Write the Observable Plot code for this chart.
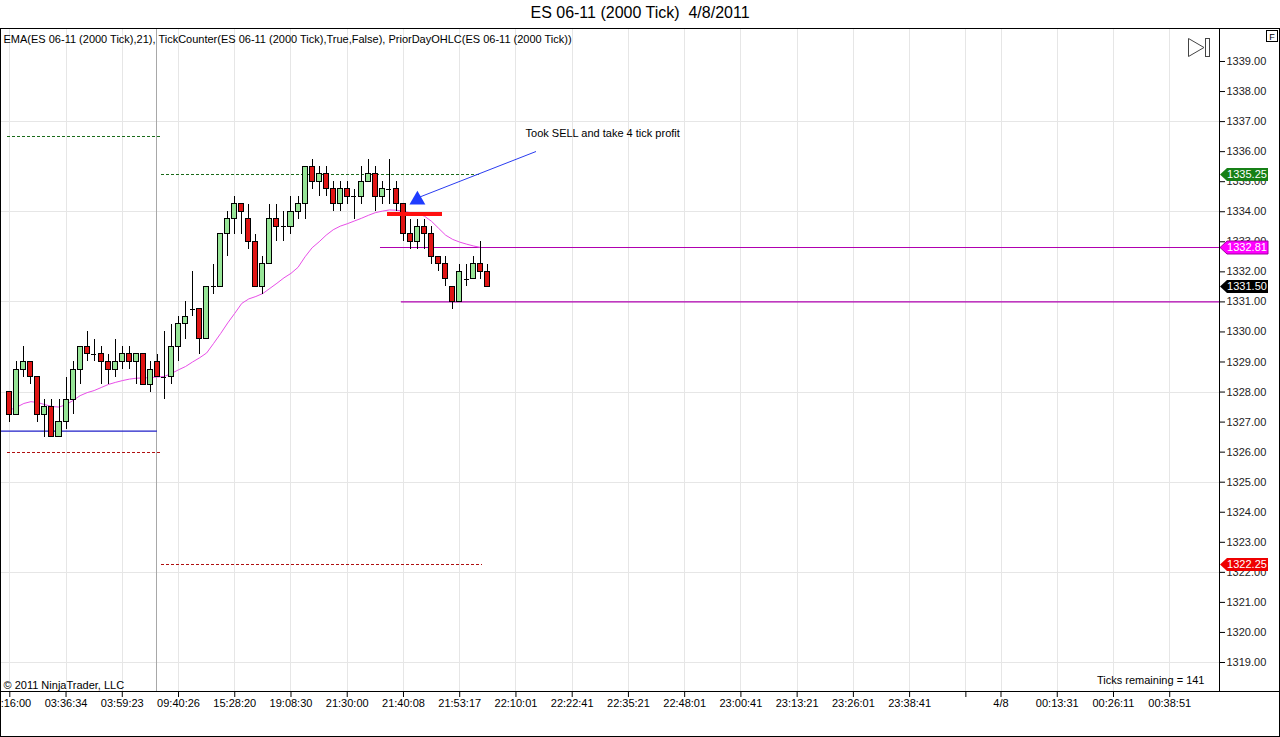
<!DOCTYPE html>
<html><head><meta charset="utf-8">
<script src="https://cdn.jsdelivr.net/npm/d3@7"></script>
<script src="https://cdn.jsdelivr.net/npm/@observablehq/plot@0.6"></script>
<style>
body{margin:0;background:#fff;font-family:"Liberation Sans",Arial,sans-serif;overflow:hidden;}
#title{height:28px;line-height:26px;text-align:center;font-size:16px;white-space:pre;color:#000;}
#chart svg{display:block}
</style></head><body>
<div id="title">ES 06-11 (2000 Tick)  4/8/2011</div>
<div id="chart"></div>
<script>
// ---- data (bar index = position in arrays) ----
const opens = [1328.0,1327.25,1328.75,1329.0,1328.5,1327.25,1327.5,1326.5,1327.0,1327.75,
 1328.75,1329.5,1329.25,1329.25,1329.0,1328.75,1329.0,1329.25,1329.0,1329.25,
 1328.25,1329.0,1328.5,1328.5,1329.5,1330.25,1330.75,1330.75,1329.75,1331.5,
 1331.5,1333.25,1333.75,1334.25,1333.75,1333.0,1331.5,1332.25,1333.75,1333.5,
 1333.5,1334.0,1334.25,1335.5,1335.0,1335.25,1334.75,1334.25,1334.75,1334.5,
 1334.5,1335.0,1335.25,1334.5,1334.75,1334.75,1334.25,1333.25,1333.0,1333.5,
 1333.25,1332.5,1332.25,1331.5,1331.0,1331.75,1331.75,1332.25,1332.0];
const highs = [1328.0,1329.0,1329.5,1329.0,1328.5,1327.75,1327.75,1327.75,1328.5,1329.0,
 1329.5,1330.0,1329.75,1329.5,1329.25,1329.75,1329.5,1329.5,1329.25,1329.25,
 1329.0,1329.25,1330.0,1330.25,1330.5,1331.0,1332.0,1330.75,1331.5,1332.25,
 1333.25,1334.0,1334.5,1334.25,1334.25,1333.25,1332.5,1334.25,1334.25,1334.0,
 1334.5,1334.5,1335.5,1335.75,1335.5,1335.5,1335.0,1335.0,1335.0,1334.75,
 1335.5,1335.75,1335.5,1335.0,1335.75,1335.0,1334.25,1333.75,1333.75,1333.75,
 1333.5,1332.5,1332.5,1331.5,1332.25,1332.25,1332.5,1333.0,1332.25];
const lows = [1327.0,1327.25,1328.5,1328.25,1327.0,1326.5,1326.5,1326.5,1326.75,1327.25,
 1328.25,1329.0,1329.0,1328.25,1328.25,1328.5,1328.75,1328.75,1328.25,1328.25,
 1328.0,1328.5,1327.75,1328.25,1329.0,1329.75,1330.5,1329.25,1329.75,1331.25,
 1331.5,1332.5,1333.25,1333.25,1332.75,1331.5,1331.25,1332.25,1333.0,1333.0,
 1333.25,1333.75,1333.75,1334.75,1334.5,1334.5,1334.0,1334.0,1334.25,1333.75,
 1334.25,1335.0,1334.0,1334.25,1334.25,1334.0,1333.0,1332.75,1332.75,1332.75,
 1332.25,1332.0,1331.5,1330.75,1331.0,1331.5,1331.75,1331.75,1331.5];
const closes = [1327.25,1328.75,1329.0,1328.5,1327.25,1327.5,1326.5,1327.0,1327.75,1328.75,
 1329.5,1329.25,1329.25,1329.0,1328.75,1329.0,1329.25,1329.0,1329.25,1328.25,
 1328.75,1328.5,1328.5,1329.5,1330.25,1330.5,1330.75,1329.75,1331.5,1331.5,
 1333.25,1333.75,1334.25,1334.0,1333.0,1331.5,1332.25,1333.75,1333.5,1333.5,
 1334.0,1334.25,1335.5,1335.0,1335.25,1334.75,1334.25,1334.75,1334.5,1334.5,
 1335.0,1335.25,1334.5,1334.75,1334.75,1334.25,1333.25,1333.0,1333.5,1333.25,
 1332.5,1332.25,1331.75,1331.0,1332.0,1331.75,1332.25,1332.0,1331.5];
const ema21 = [1327.40,1327.50,1327.62,1327.68,1327.65,1327.58,1327.52,1327.50,1327.58,1327.72,
 1327.88,1327.98,1328.05,1328.15,1328.25,1328.32,1328.38,1328.43,1328.46,1328.47,
 1328.48,1328.50,1328.52,1328.62,1328.74,1328.85,1329.00,1329.14,1329.30,1329.62,
 1329.95,1330.30,1330.62,1330.95,1331.10,1331.18,1331.28,1331.45,1331.62,1331.80,
 1331.95,1332.15,1332.50,1332.80,1333.00,1333.22,1333.40,1333.52,1333.60,1333.69,
 1333.78,1333.88,1333.97,1334.02,1334.06,1334.05,1334.01,1333.97,1333.94,1333.85,
 1333.68,1333.45,1333.22,1333.08,1332.99,1332.92,1332.86,1332.81];

const xTickBars = [0,8,16,24,32,40,48,56,64,72,80,88,96,104,112,120,128,136,141,149,157,165];
const xTickLabels = ["03:16:00","03:36:34","03:59:23","09:40:26","15:28:20","19:08:30","21:30:00",
 "21:40:08","21:53:17","22:10:01","22:22:41","22:35:21","22:48:01","23:00:41","23:13:21",
 "23:26:01","23:38:41","","4/8","00:13:31","00:26:11","00:38:51"];
const yTicks = [1319,1320,1321,1322,1323,1324,1325,1326,1327,1328,1329,1330,1331,1332,1333,1334,1335,1336,1337,1338,1339];
const yGrid = [1319,1322,1325,1328,1331,1334,1337];

// prior-day OHLC / drawn levels: price, first bar, last bar
const priorHighLevels = [{price:1336.5, from:-0.33, to:21.44},{price:1335.25, from:21.58, to:67.1}];
const priorLowLevels  = [{price:1326.0, from:-0.33, to:21.44},{price:1322.25, from:21.58, to:67.24}];
const priorOpenLevels = [{price:1326.7, from:-1.32, to:21.0}];
const drawnLevels     = [{price:1332.81, from:52.73},{price:1331.0, from:55.7}];
const sessionBreak = [20.87];
const sellMark = [{price:1333.92, from:53.77, to:61.5}];
const arrowLine = [{bar:74.8, price:1336.0},{bar:58.1, price:1334.47}];
const arrowHead = [{bar:57.98, price:1334.39}];
const note = [{bar:73.36, price:1336.6, text:"Took SELL and take 4 tick profit"}];
const tagPrices = [1335.25, 1332.81, 1331.50, 1322.25];
const tagColors = ["#168016","#ff00ff","#000000","#ee0000"];

const xMin = -1.323, xMax = 172.08;
const yMin = 1318.035, yMax = 1340.098;

const bars = opens.map((o,i)=>({i, o, h:highs[i], l:lows[i], c:closes[i]}));
const bodies = bars.filter(d=>d.o!==d.c);
const dojis = bars.filter(d=>d.o===d.c);
const emaData = ema21.map((v,i)=>({i,v}));
const GREEN = "#97e597", RED = "#e01414";
const CRISP = {shapeRendering:"crispEdges"};

function decor(index, scales, values, dims) {
  const {width, height, marginBottom, marginRight} = dims;
  const yb = height - marginBottom, xr = width - marginRight;
  const g = d3.create("svg:g");
  g.append("rect").attr("x",0.5).attr("y",0.5).attr("width",width-1).attr("height",height-1)
    .attr("fill","none").attr("stroke","#000");
  g.append("line").attr("x1",0).attr("x2",width).attr("y1",yb+0.5).attr("y2",yb+0.5).attr("stroke","#000");
  g.append("line").attr("x1",xr+0.5).attr("x2",xr+0.5).attr("y1",0).attr("y2",yb).attr("stroke","#000");
  // F box
  g.append("rect").attr("x",1266.5).attr("y",2.5).attr("width",11).attr("height",11)
    .attr("fill","#fff").attr("stroke","#000");
  g.append("text").attr("x",1272).attr("y",11.5).attr("text-anchor","middle")
    .attr("font-size",9).attr("font-family","Liberation Sans, Arial, sans-serif").text("F");
  // play-to-end icon
  g.append("path").attr("d","M1188.5,10.5 L1204,19.5 L1188.5,28.5 Z").attr("fill","#fff").attr("stroke","#444");
  g.append("rect").attr("x",1205.5).attr("y",10.5).attr("width",4).attr("height",18).attr("fill","#fff").attr("stroke","#444");
  // price tags
  tagPrices.forEach((p,k)=>{
    const y = Math.round(scales.y(p)) + 0.5;
    g.append("path")
      .attr("d",`M${xr+1},${y} L${xr+8},${y-6.5} L${xr+49},${y-6.5} L${xr+49},${y+6.5} L${xr+8},${y+6.5} Z`)
      .attr("fill",tagColors[k]).attr("stroke", k===1 ? "#a000a0" : "none");
    g.append("text").attr("x",xr+28).attr("y",y).attr("dy","0.36em").attr("text-anchor","middle")
      .attr("fill","#fff").attr("font-size",11).attr("font-family","Liberation Sans, Arial, sans-serif")
      .text(p.toFixed(2));
  });
  return g.node();
}

const chart = Plot.plot({
  width: 1280, height: 709,
  marginTop: 0, marginBottom: 46, marginLeft: 0, marginRight: 61,
  x: {type:"linear", domain:[xMin, xMax]},
  y: {type:"linear", domain:[yMin, yMax]},
  style: {fontFamily:"Liberation Sans, Arial, sans-serif", fontSize:"11px", background:"#fff", overflow:"visible"},
  marks: [
    Plot.gridX({ticks: xTickBars, stroke:"#e6e6e6", strokeOpacity:1, ...CRISP}),
    Plot.gridY({ticks: yGrid, stroke:"#e6e6e6", strokeOpacity:1, ...CRISP}),
    Plot.ruleX(sessionBreak, {stroke:"#a8a8a8", ...CRISP}),
    Plot.ruleY(priorHighLevels, {y:"price", x1:"from", x2:"to", stroke:"#1b6b1b", strokeDasharray:"3,2", ...CRISP}),
    Plot.ruleY(priorLowLevels, {y:"price", x1:"from", x2:"to", stroke:"#b01010", strokeDasharray:"3,2", ...CRISP}),
    Plot.ruleY(priorOpenLevels, {y:"price", x1:"from", x2:"to", stroke:"#2020c8", strokeWidth:1.2}),
    Plot.ruleY(drawnLevels, {y:"price", x1:"from", x2:()=>xMax, stroke:"#b000b0", strokeWidth:1.2}),
    Plot.line(emaData, {x:"i", y:"v", stroke:"#e84ee8", strokeWidth:1}),
    Plot.ruleX(bars, {x:"i", y1:"l", y2:"h", stroke:"#000", strokeWidth:1, ...CRISP}),
    Plot.rect(bodies, {x1:d=>d.i-0.5, x2:d=>d.i+0.5, y1:"o", y2:"c", insetLeft:1, insetRight:1,
      fill:d=>d.c>d.o?GREEN:RED, stroke:"#000", strokeWidth:1, ...CRISP}),
    Plot.ruleY(dojis, {y:"o", x1:d=>d.i-0.5, x2:d=>d.i+0.5, insetLeft:1, insetRight:1, stroke:"#000", ...CRISP}),
    Plot.ruleY(sellMark, {y:"price", x1:"from", x2:"to", stroke:"#ff1010", strokeWidth:4, ...CRISP}),
    Plot.line(arrowLine, {x:"bar", y:"price", stroke:"#2a3cf0", strokeWidth:1}),
    Plot.dot(arrowHead, {x:"bar", y:"price", symbol:"triangle", r:5.9, fill:"#1f3cff", stroke:"none"}),
    Plot.text(note, {x:"bar", y:"price", text:"text", textAnchor:"start", fontSize:11, fill:"#000"}),
    Plot.axisY({ticks: yTicks, anchor:"right", tickFormat:d=>d.toFixed(2), tickSize:5, tickPadding:2, label:null, fill:"#222"}),
    Plot.axisX({ticks: xTickBars, anchor:"bottom", tickFormat:d=>xTickLabels[xTickBars.indexOf(d)], tickSize:6, tickPadding:2, label:null}),
    Plot.text(["EMA(ES 06-11 (2000 Tick),21), TickCounter(ES 06-11 (2000 Tick),True,False), PriorDayOHLC(ES 06-11 (2000 Tick))"],
      {frameAnchor:"top-left", lineAnchor:"middle", dx:3, dy:11, textAnchor:"start", fontSize:11}),
    Plot.text(["© 2011 NinjaTrader, LLC"], {frameAnchor:"bottom-left", lineAnchor:"middle", dx:3, dy:-6, textAnchor:"start", fontSize:11}),
    Plot.text(["Ticks remaining = 141"], {frameAnchor:"bottom-right", lineAnchor:"middle", dx:-15, dy:-11, textAnchor:"end", fontSize:11}),
    decor
  ]
});
document.getElementById("chart").append(chart);
</script>
</body></html>
